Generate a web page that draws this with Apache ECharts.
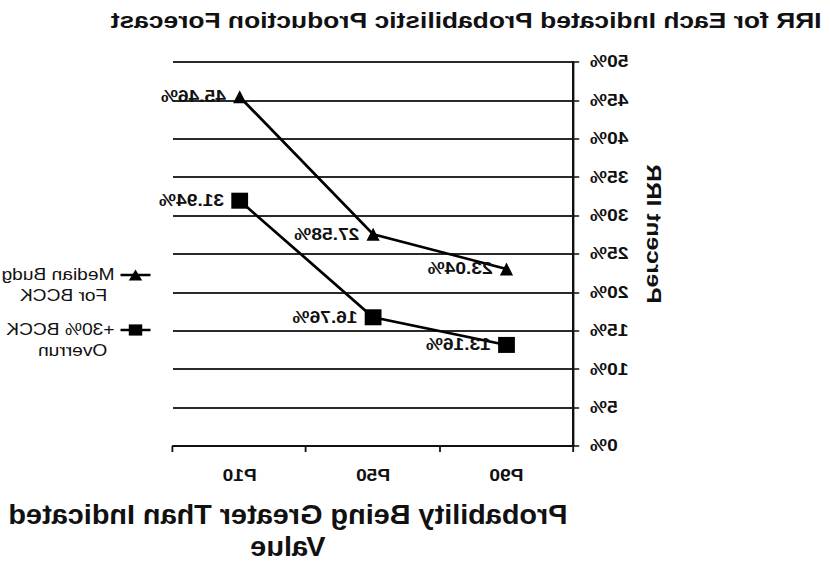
<!DOCTYPE html>
<html>
<head>
<meta charset="utf-8">
<script src="https://cdn.jsdelivr.net/npm/echarts@6/dist/echarts.min.js"></script>
<style>
  html, body { margin: 0; padding: 0; background: #ffffff; overflow: hidden; }
  #wrap { width: 830px; height: 563px; position: relative; overflow: hidden; background: #fff; }
  /* the reference picture is a horizontally mirrored (and slightly stretched) chart */
  #chart { width: 692px; height: 563px; position: absolute; left: 0; top: 0;
           transform-origin: 0 0; transform: translateX(830px) scaleX(-1.2); }
</style>
</head>
<body>
<div id="wrap"><div id="chart"></div></div>
<script>
// ---- data ----
const categories = ['P10', 'P50', 'P90'];
const medianBudget = [45.46, 27.58, 23.04];
const overrun30 = [31.94, 16.76, 13.16];
const seriesNames = ['Median Budg For BCCK', '+30% BCCK Overrun'];
const legendLines = [['Median Budg', 'For BCCK'], ['+30% BCCK', 'Overrun']];
const chartTitle = 'IRR for Each Indicated Probabilistic Production Forecast';
const xAxisTitle = 'Probability Being Greater Than Indicated\nValue';
const yAxisTitle = 'Percent IRR';
const yMin = 0, yMax = 50, yStep = 5;

const FONT = '"Liberation Sans", Arial, sans-serif';
const INK = '#111111';

const chart = echarts.init(document.getElementById('chart'), null, { renderer: 'svg' });

const labelStyle = {
  show: true, position: 'right', distance: 6,
  formatter: p => p.value.toFixed(2) + '%',
  fontFamily: FONT, fontWeight: 'bold', fontSize: 16, color: INK
};

const legendRich = {
  l: { fontFamily: FONT, fontSize: 16, color: INK, lineHeight: 21 },
  c: { fontFamily: FONT, fontSize: 16, color: INK, lineHeight: 21, padding: [0, 0, 0, 6] }
};

function legendText(i) {
  return '{l| }\n{l|' + legendLines[i][0] + '}\n{c|' + legendLines[i][1] + '}';
}

const option = {
  animation: false,
  backgroundColor: '#ffffff',
  title: {
    text: chartTitle, left: 7, top: 9, padding: 0,
    textStyle: { fontFamily: FONT, fontWeight: 'bold', fontSize: 22, color: INK }
  },
  grid: { left: 214, right: 144.5, top: 62, bottom: 117, containLabel: false },
  xAxis: {
    type: 'category', data: categories, inverse: true, boundaryGap: true,
    axisLine: { show: true, lineStyle: { color: INK, width: 2 } },
    axisTick: { show: true, length: 6, lineStyle: { color: INK, width: 1.5 } },
    axisLabel: { margin: 22, fontFamily: FONT, fontWeight: 'bold', fontSize: 16, color: INK },
    splitLine: { show: false }
  },
  yAxis: {
    type: 'value', min: yMin, max: yMax, interval: yStep, position: 'left',
    axisLine: { show: true, lineStyle: { color: INK, width: 2 } },
    axisTick: { show: true, length: 5, lineStyle: { color: INK, width: 1.5 } },
    axisLabel: { formatter: '{value}%', margin: 14, fontFamily: FONT, fontWeight: 'bold', fontSize: 16, color: INK },
    splitLine: { show: true, lineStyle: { color: '#2a2a2a', width: 1.8 } }
  },
  legend: [
    {
      data: [seriesNames[0]], orient: 'vertical', left: 565, top: 243.5, padding: 0,
      itemWidth: 25, itemHeight: 14, itemGap: 0,
      lineStyle: { width: 2.5 },
      formatter: () => legendText(0),
      textStyle: { fontFamily: FONT, fontSize: 16, color: INK, lineHeight: 21, rich: legendRich }
    },
    {
      data: [seriesNames[1]], orient: 'vertical', left: 565, top: 298.5, padding: 0,
      itemWidth: 25, itemHeight: 14, itemGap: 0,
      lineStyle: { width: 2.5 },
      formatter: () => legendText(1),
      textStyle: { fontFamily: FONT, fontSize: 16, color: INK, lineHeight: 21, rich: legendRich }
    }
  ],
  series: [
    {
      name: seriesNames[0], type: 'line', data: medianBudget,
      symbol: 'triangle', symbolSize: [11, 13],
      itemStyle: { color: '#000' }, lineStyle: { color: '#000', width: 2.5 },
      label: labelStyle
    },
    {
      name: seriesNames[1], type: 'line', data: overrun30,
      symbol: 'rect', symbolSize: [14, 16],
      itemStyle: { color: '#000' }, lineStyle: { color: '#000', width: 2.5 },
      label: labelStyle
    }
  ],
  graphic: [
    {
      type: 'text', x: 451.7, y: 531, scaleX: 0.89,
      style: {
        text: xAxisTitle, fontFamily: FONT, fontWeight: 'bold', fontSize: 27,
        lineHeight: 32, fill: INK, align: 'center', verticalAlign: 'middle'
      }
    },
    {
      type: 'text', x: 146.7, y: 234, rotation: Math.PI / 2, scaleX: 1.45,
      style: {
        text: yAxisTitle, fontFamily: FONT, fontWeight: 'bold', fontSize: 17,
        fill: INK, align: 'center', verticalAlign: 'middle'
      }
    }
  ]
};

chart.setOption(option);
</script>
</body>
</html>
